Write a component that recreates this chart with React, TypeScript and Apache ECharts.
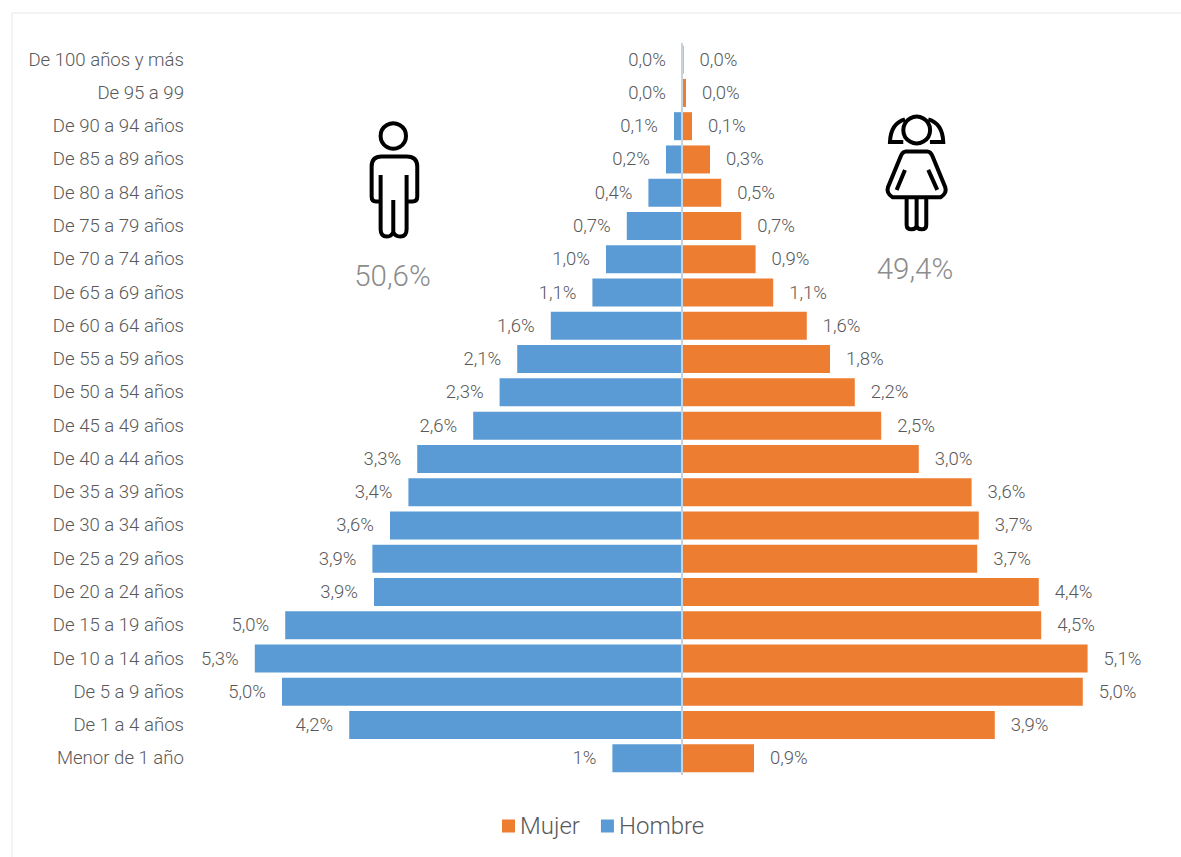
import React, { useEffect, useRef } from "react";
import * as echarts from "echarts";

const categories = ["De 100 años y más","De 95 a 99","De 90 a 94 años","De 85 a 89 años","De 80 a 84 años","De 75 a 79 años","De 70 a 74 años","De 65 a 69 años","De 60 a 64 años","De 55 a 59 años","De 50 a 54 años","De 45 a 49 años","De 40 a 44 años","De 35 a 39 años","De 30 a 34 años","De 25 a 29 años","De 20 a 24 años","De 15 a 19 años","De 10 a 14 años","De 5 a 9 años","De 1 a 4 años","Menor de 1 año"];
const hombre = [0,0,0.1,0.2,0.42,0.69,0.95,1.12,1.64,2.06,2.28,2.61,3.31,3.42,3.65,3.87,3.85,4.96,5.34,5,4.16,0.87];
const mujer = [0.02,0.05,0.125,0.35,0.49,0.74,0.92,1.14,1.56,1.85,2.16,2.49,2.96,3.62,3.71,3.69,4.46,4.49,5.07,5.01,3.91,0.9];
const hombreLabels = ["0,0%","0,0%","0,1%","0,2%","0,4%","0,7%","1,0%","1,1%","1,6%","2,1%","2,3%","2,6%","3,3%","3,4%","3,6%","3,9%","3,9%","5,0%","5,3%","5,0%","4,2%","1%"];
const mujerLabels = ["0,0%","0,0%","0,1%","0,3%","0,5%","0,7%","0,9%","1,1%","1,6%","1,8%","2,2%","2,5%","3,0%","3,6%","3,7%","3,7%","4,4%","4,5%","5,1%","5,0%","3,9%","0,9%"];

const FONT = "Roboto";
const TXT = "#595959";

echarts.graphic.registerShape("manIcon", echarts.graphic.extendPath(
  "M122 225 V388 Q122 410 141 410 Q155 410 160 396 Q165 410 181 410 Q200 410 200 388 V225 M160 300 V396 M122 305 H108 Q95 305 95 290 V200 Q95 170 125 170 H200 Q232 170 232 200 V290 Q232 305 218 305 H200",
  {}
));
echarts.graphic.registerShape("womanIcon", echarts.graphic.extendPath(
  "M135 58 Q92 70 90 126 H130 M205 58 Q248 70 250 126 H210 M138 155 H202 Q212 155 218 170 L256 262 Q262 280 242 292 H98 Q78 280 84 262 L122 170 Q128 155 138 155 M135 210 L110 270 M205 210 L232 270 M140 295 V375 Q140 388 155 388 Q168 388 170 378 Q172 388 185 388 Q199 388 199 375 V295 M170 295 V378",
  {}
));

export default function App() {
  const ref = useRef<HTMLDivElement>(null);
  useEffect(() => {
    const chart = echarts.init(ref.current!, null, { renderer: "svg" });
    chart.setOption({
      animation: false,
      backgroundColor: "#ffffff",
      textStyle: { fontFamily: FONT },
      grid: { left: 202, width: 960, top: 43, height: 732 },
      legend: {
        data: ["Mujer", "Hombre"],
        left: 497,
        top: 809,
        itemWidth: 13,
        itemHeight: 13,
        itemGap: 21,
        icon: "rect",
        selectedMode: false,
        textStyle: { fontFamily: FONT, fontWeight: 300, fontSize: 24, color: TXT },
      },
      xAxis: {
        type: "value", min: -6, max: 6,
        axisLine: { show: false }, axisTick: { show: false },
        axisLabel: { show: false }, splitLine: { show: false },
      },
      yAxis: {
        type: "category",
        inverse: true,
        data: categories,
        axisTick: { show: false },
        axisLine: { show: false, onZero: false },
        axisLabel: { margin: 18, fontFamily: FONT, fontWeight: 300, fontSize: 18.6, color: TXT },
      },
      series: [
        {
          name: "Hombre", type: "bar", barGap: "-100%", barWidth: 28,
          data: hombre.map((v) => -v),
          itemStyle: { color: "#5B9BD5" },
          label: {
            show: true, position: "left", distance: 16,
            fontFamily: FONT, fontWeight: 300, fontSize: 18.5, color: TXT,
            formatter: (p: any) => hombreLabels[p.dataIndex],
          },
        },
        {
          name: "Mujer", type: "bar", barWidth: 28,
          data: mujer,
          itemStyle: { color: "#ED7D31" },
          label: {
            show: true, position: "right", distance: 16,
            fontFamily: FONT, fontWeight: 300, fontSize: 18.5, color: TXT,
            formatter: (p: any) => mujerLabels[p.dataIndex],
          },
          markLine: {
            silent: true, symbol: "none", animation: false,
            label: { show: false },
            lineStyle: { color: "#c8d2da", width: 2, type: "solid" },
            data: [{ xAxis: 0 }],
          },
        },
      ],
      graphic: [
        { type: "polyline", silent: true, shape: { points: [[12, 857], [12, 13], [1181, 13]] }, style: { stroke: "#efefef", lineWidth: 1.5, fill: "none" } },
        { type: "circle", silent: true, shape: { cx: 393.3, cy: 136, r: 12.7 }, style: { fill: "none", stroke: "#000", lineWidth: 4 } },
        { type: "manIcon", silent: true, x: 340, y: 100, scaleX: 1 / 3, scaleY: 1 / 3, style: { fill: "none", stroke: "#000", lineWidth: 12 } },
        { type: "circle", silent: true, shape: { cx: 916.7, cy: 130, r: 13.4 }, style: { fill: "none", stroke: "#000", lineWidth: 4 } },
        { type: "womanIcon", silent: true, x: 860, y: 100, scaleX: 1 / 3, scaleY: 1 / 3, style: { fill: "none", stroke: "#000", lineWidth: 12 } },
        { type: "text", silent: true, x: 392.5, y: 276, style: { text: "50,6%", fill: "#8c8c8c", font: `300 29.5px ${FONT}`, align: "center", verticalAlign: "middle" } },
        { type: "text", silent: true, x: 915, y: 269, style: { text: "49,4%", fill: "#8c8c8c", font: `300 29.5px ${FONT}`, align: "center", verticalAlign: "middle" } },
      ],
    });
    return () => chart.dispose();
  }, []);
  return <div ref={ref} style={{ position: "fixed", left: 0, top: 0, width: 1181, height: 857 }} />;
}
